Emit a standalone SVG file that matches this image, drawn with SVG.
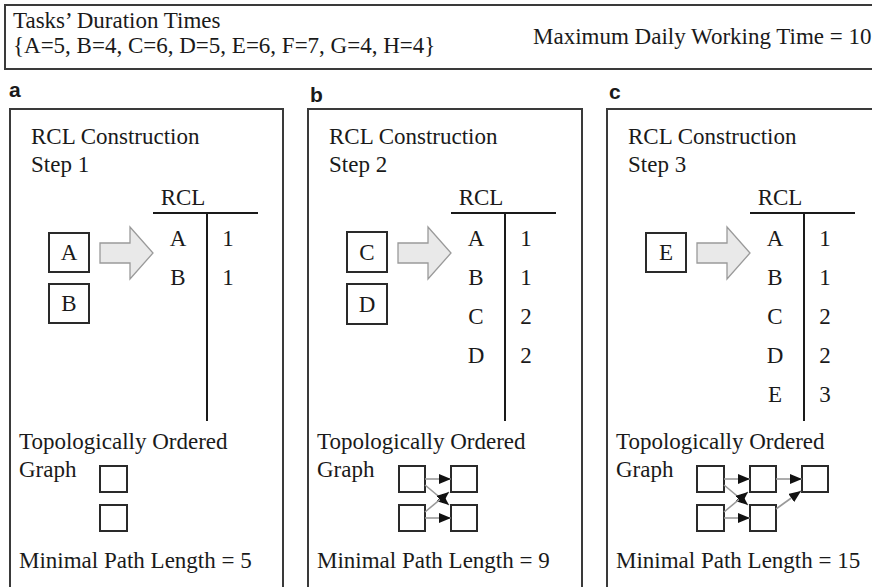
<svg xmlns="http://www.w3.org/2000/svg" width="872" height="587" viewBox="0 0 872 587">
<defs>
<style>
.t{font-family:"Liberation Serif","Times New Roman",serif;font-size:23px;fill:#1a1a1a}
.c{text-anchor:middle}
.lbl{font-family:"Liberation Sans",Arial,sans-serif;font-size:21px;font-weight:bold;fill:#1a1a1a}
.frame{fill:none;stroke:#3a3a3a;stroke-width:2}
.box{fill:#fff;stroke:#2a2a2a;stroke-width:2}
.gbox{fill:#fff;stroke:#2a2a2a;stroke-width:2}
.rule{stroke:#1a1a1a;stroke-width:2;fill:none}
.blk{fill:#e9e9e9;stroke:#9a9a9a;stroke-width:1.3}
.edge{stroke:#999;stroke-width:1.6;fill:none;marker-end:url(#ah)}
</style>
<marker id="ah" markerUnits="userSpaceOnUse" markerWidth="12" markerHeight="10" refX="12" refY="5" orient="auto">
<path d="M0,0 L12,5 L0,10 z" fill="#111"/>
</marker>
</defs>
<rect width="872" height="587" fill="#fff"/>

<g id="header">
<rect class="frame" x="5" y="5" width="880" height="64"/>
<text class="t" x="13" y="28">Tasks’ Duration Times</text>
<text class="t" x="13" y="53">{A=5, B=4, C=6, D=5, E=6, F=7, G=4, H=4}</text>
<text class="t" x="533" y="44">Maximum Daily Working Time = 10</text>
</g>

<text class="lbl" x="9" y="97">a</text>
<text class="lbl" x="310" y="102">b</text>
<text class="lbl" x="609" y="99">c</text>

<!-- Panel a -->
<g id="panel-a">
<rect class="frame" x="10" y="109" width="273" height="500"/>
<text class="t" x="31" y="144">RCL Construction</text>
<text class="t" x="31" y="172">Step 1</text>
<text class="t c" x="183" y="205">RCL</text>
<path class="rule" d="M153,213 H258 M207,213 V421"/>
<text class="t c" x="178" y="246">A</text><text class="t c" x="228" y="246">1</text>
<text class="t c" x="178" y="285">B</text><text class="t c" x="228" y="285">1</text>
<text class="t" x="19" y="449">Topologically Ordered</text>
<text class="t" x="19" y="477">Graph</text>
<text class="t" x="19" y="568">Minimal Path Length = 5</text>
</g>
<g id="a-task-A"><rect class="box" x="49" y="233" width="40" height="39"/><text class="t c" x="69" y="260">A</text></g>
<g id="a-task-B"><rect class="box" x="49" y="284" width="40" height="39"/><text class="t c" x="69" y="311">B</text></g>
<g id="a-g1"><rect class="gbox" x="100" y="466" width="27" height="26"/></g>
<g id="a-g2"><rect class="gbox" x="100" y="505" width="27" height="26"/></g>

<!-- Panel b -->
<g id="panel-b">
<rect class="frame" x="308" y="109" width="274" height="500"/>
<text class="t" x="329" y="144">RCL Construction</text>
<text class="t" x="329" y="172">Step 2</text>
<text class="t c" x="481" y="205">RCL</text>
<path class="rule" d="M451,213 H556 M505,213 V421"/>
<text class="t c" x="476" y="246">A</text><text class="t c" x="526" y="246">1</text>
<text class="t c" x="476" y="285">B</text><text class="t c" x="526" y="285">1</text>
<text class="t c" x="476" y="324">C</text><text class="t c" x="526" y="324">2</text>
<text class="t c" x="476" y="363">D</text><text class="t c" x="526" y="363">2</text>
<text class="t" x="317" y="449">Topologically Ordered</text>
<text class="t" x="317" y="477">Graph</text>
<text class="t" x="317" y="568">Minimal Path Length = 9</text>
</g>
<g id="b-task-C"><rect class="box" x="347" y="232" width="40" height="40"/><text class="t c" x="367" y="260">C</text></g>
<g id="b-task-D"><rect class="box" x="347" y="284" width="40" height="40"/><text class="t c" x="367" y="312">D</text></g>
<g id="b-g1"><rect class="gbox" x="399" y="466" width="26" height="26"/></g>
<g id="b-g2"><rect class="gbox" x="399" y="505" width="26" height="26"/></g>
<g id="b-g3"><rect class="gbox" x="451" y="466" width="26" height="26"/></g>
<g id="b-g4"><rect class="gbox" x="451" y="505" width="26" height="26"/></g>

<!-- Panel c -->
<g id="panel-c">
<rect class="frame" x="607" y="109" width="300" height="500"/>
<text class="t" x="628" y="144">RCL Construction</text>
<text class="t" x="628" y="172">Step 3</text>
<text class="t c" x="780" y="205">RCL</text>
<path class="rule" d="M750,213 H855 M804,213 V421"/>
<text class="t c" x="775" y="246">A</text><text class="t c" x="825" y="246">1</text>
<text class="t c" x="775" y="285">B</text><text class="t c" x="825" y="285">1</text>
<text class="t c" x="775" y="324">C</text><text class="t c" x="825" y="324">2</text>
<text class="t c" x="775" y="363">D</text><text class="t c" x="825" y="363">2</text>
<text class="t c" x="775" y="402">E</text><text class="t c" x="825" y="402">3</text>
<text class="t" x="616" y="449">Topologically Ordered</text>
<text class="t" x="616" y="477">Graph</text>
<text class="t" x="616" y="568">Minimal Path Length = 15</text>
</g>
<g id="c-task-E"><rect class="box" x="646" y="233" width="40" height="39"/><text class="t c" x="666" y="260">E</text></g>
<g id="c-g1"><rect class="gbox" x="697" y="466" width="27" height="26"/></g>
<g id="c-g2"><rect class="gbox" x="697" y="505" width="27" height="26"/></g>
<g id="c-g3"><rect class="gbox" x="750" y="466" width="26" height="26"/></g>
<g id="c-g4"><rect class="gbox" x="750" y="505" width="26" height="26"/></g>
<g id="c-g5"><rect class="gbox" x="802" y="466" width="26" height="26"/></g>

<g id="connectors">
<polygon class="blk" points="100,243 130,243 130,227 153,253 130,279 130,263 100,263"/>
<polygon class="blk" points="398,243 428,243 428,227 451,253 428,279 428,263 398,263"/>
<polygon class="blk" points="697,243 727,243 727,227 750,253 727,279 727,263 697,263"/>
<line class="edge" x1="425" y1="479" x2="451" y2="479"/>
<line class="edge" x1="425" y1="518" x2="451" y2="518"/>
<line class="edge" x1="425" y1="485" x2="449" y2="505"/>
<line class="edge" x1="425" y1="512" x2="449" y2="492"/>
<line class="edge" x1="724" y1="479" x2="750" y2="479"/>
<line class="edge" x1="776" y1="479" x2="802" y2="479"/>
<line class="edge" x1="724" y1="518" x2="750" y2="518"/>
<line class="edge" x1="724" y1="485" x2="748" y2="505"/>
<line class="edge" x1="724" y1="512" x2="748" y2="492"/>
<line class="edge" x1="776" y1="509" x2="801" y2="491"/>
</g>
</svg>
